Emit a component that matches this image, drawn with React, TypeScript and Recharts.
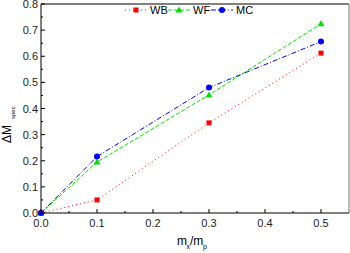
import { LineChart, Line, XAxis, YAxis, ReferenceLine } from 'recharts';

const ratios = [0, 0.1, 0.3, 0.5];
const wb = [0, 0.05, 0.345, 0.612];
const wf = [0, 0.195, 0.452, 0.724];
const mc = [0, 0.216, 0.48, 0.656];

const xTicks = [0, 0.05, 0.1, 0.15, 0.2, 0.25, 0.3, 0.35, 0.4, 0.45, 0.5];
const yTicks = [0, 0.05, 0.1, 0.15, 0.2, 0.25, 0.3, 0.35, 0.4, 0.45, 0.5, 0.55, 0.6, 0.65, 0.7, 0.75, 0.8];

const data = ratios.map((r, i) => ({ r, wb: wb[i], wf: wf[i], mc: mc[i] }));

const FONT = 'Liberation Sans, Arial, sans-serif';

const isMajor = (v: number) => Math.abs(Math.round(v * 10) - v * 10) < 1e-6;

const XTick = (props: any) => {
  const { x, y, payload } = props;
  const major = isMajor(payload.value);
  return (
    <g>
      <line x1={x} x2={x} y1={y} y2={y - (major ? 4 : 2)} stroke="#000" />
      {major && (
        <text x={x} y={y + 14} textAnchor="middle" fontSize={11} fontFamily={FONT} fill="#222">
          {payload.value.toFixed(1)}
        </text>
      )}
    </g>
  );
};

const YTick = (props: any) => {
  const { x, y, payload } = props;
  const major = isMajor(payload.value);
  return (
    <g>
      <line x1={x} x2={x + (major ? 4 : 2)} y1={y} y2={y} stroke="#000" />
      {major && (
        <text x={x - 3} y={y + 4} textAnchor="end" fontSize={11} fontFamily={FONT} fill="#222">
          {payload.value.toFixed(1)}
        </text>
      )}
    </g>
  );
};

const Square = (props: any) => {
  const { cx, cy } = props;
  return <rect x={cx - 2.5} y={cy - 2.5} width={5} height={5} fill="#ff0000" />;
};
const Triangle = (props: any) => {
  const { cx, cy } = props;
  return <polygon points={`${cx},${cy - 3.5} ${cx + 3.5},${cy + 2.5} ${cx - 3.5},${cy + 2.5}`} fill="#00e000" />;
};
const Circle = (props: any) => {
  const { cx, cy } = props;
  return <circle cx={cx} cy={cy} r={3} fill="#0000ff" />;
};

const legendItems = [
  { name: 'WB', color: '#ff0000', dash: '1 3', x: 125, Marker: Square },
  { name: 'WF', color: '#00e000', dash: '4 2', x: 168, Marker: Triangle },
  { name: 'MC', color: '#0000ff', dash: '5 2 1 2', x: 211, Marker: Circle },
];

function App() {
  return (
    <div style={{ position: 'absolute', left: 0, top: 0, width: 350, height: 253, background: '#fff' }}>
      <LineChart width={350} height={253} data={data} margin={{ top: 4, right: 1, bottom: 0, left: 0 }}>
        <XAxis
          dataKey="r"
          type="number"
          domain={[0, 0.55]}
          ticks={xTicks}
          tick={<XTick />}
          tickSize={0}
          tickMargin={0}
          tickLine={false}
          height={40}
          stroke="#000"
          interval={0}
        />
        <YAxis
          type="number"
          domain={[0, 0.8]}
          ticks={yTicks}
          tick={<YTick />}
          tickSize={0}
          tickMargin={0}
          tickLine={false}
          width={41}
          stroke="#000"
          interval={0}
        />
        <ReferenceLine y={0.8} stroke="#000" />
        <ReferenceLine x={0.55} stroke="#777" />
        <Line
          dataKey="wb"
          stroke="#ff0000"
          strokeDasharray="1 3"
          strokeWidth={1}
          dot={<Square />}
          isAnimationActive={false}
        />
        <Line
          dataKey="wf"
          stroke="#00e000"
          strokeDasharray="4 2"
          strokeWidth={1}
          dot={<Triangle />}
          isAnimationActive={false}
        />
        <Line
          dataKey="mc"
          stroke="#0000ff"
          strokeDasharray="5 2 1 2"
          strokeWidth={1}
          dot={<Circle />}
          isAnimationActive={false}
        />
      </LineChart>
      <svg width={350} height={253} style={{ position: 'absolute', left: 0, top: 0, pointerEvents: 'none' }}>
        {legendItems.map((it) => (
          <g key={it.name}>
            <line x1={it.x} x2={it.x + 22} y1={10} y2={10} stroke={it.color} strokeDasharray={it.dash} />
            <it.Marker cx={it.x + 11} cy={10} />
            <text x={it.x + 25} y={14} fontSize={11} fontFamily={FONT} fill="#000">
              {it.name}
            </text>
          </g>
        ))}
        <g fontFamily={FONT} fill="#000">
          <text x={177} y={245} fontSize={12}>m</text>
          <text x={186.5} y={249} fontSize={7}>x</text>
          <text x={190} y={245} fontSize={12}>/m</text>
          <text x={203} y={249} fontSize={7}>p</text>
        </g>
        <g transform="rotate(-90 11 120)" fontFamily={FONT} fill="#000">
          <text x={-12} y={120} fontSize={12}>ΔM</text>
          <text x={12} y={124} fontSize={6}>spec</text>
        </g>
      </svg>
    </div>
  );
}

export default App;
